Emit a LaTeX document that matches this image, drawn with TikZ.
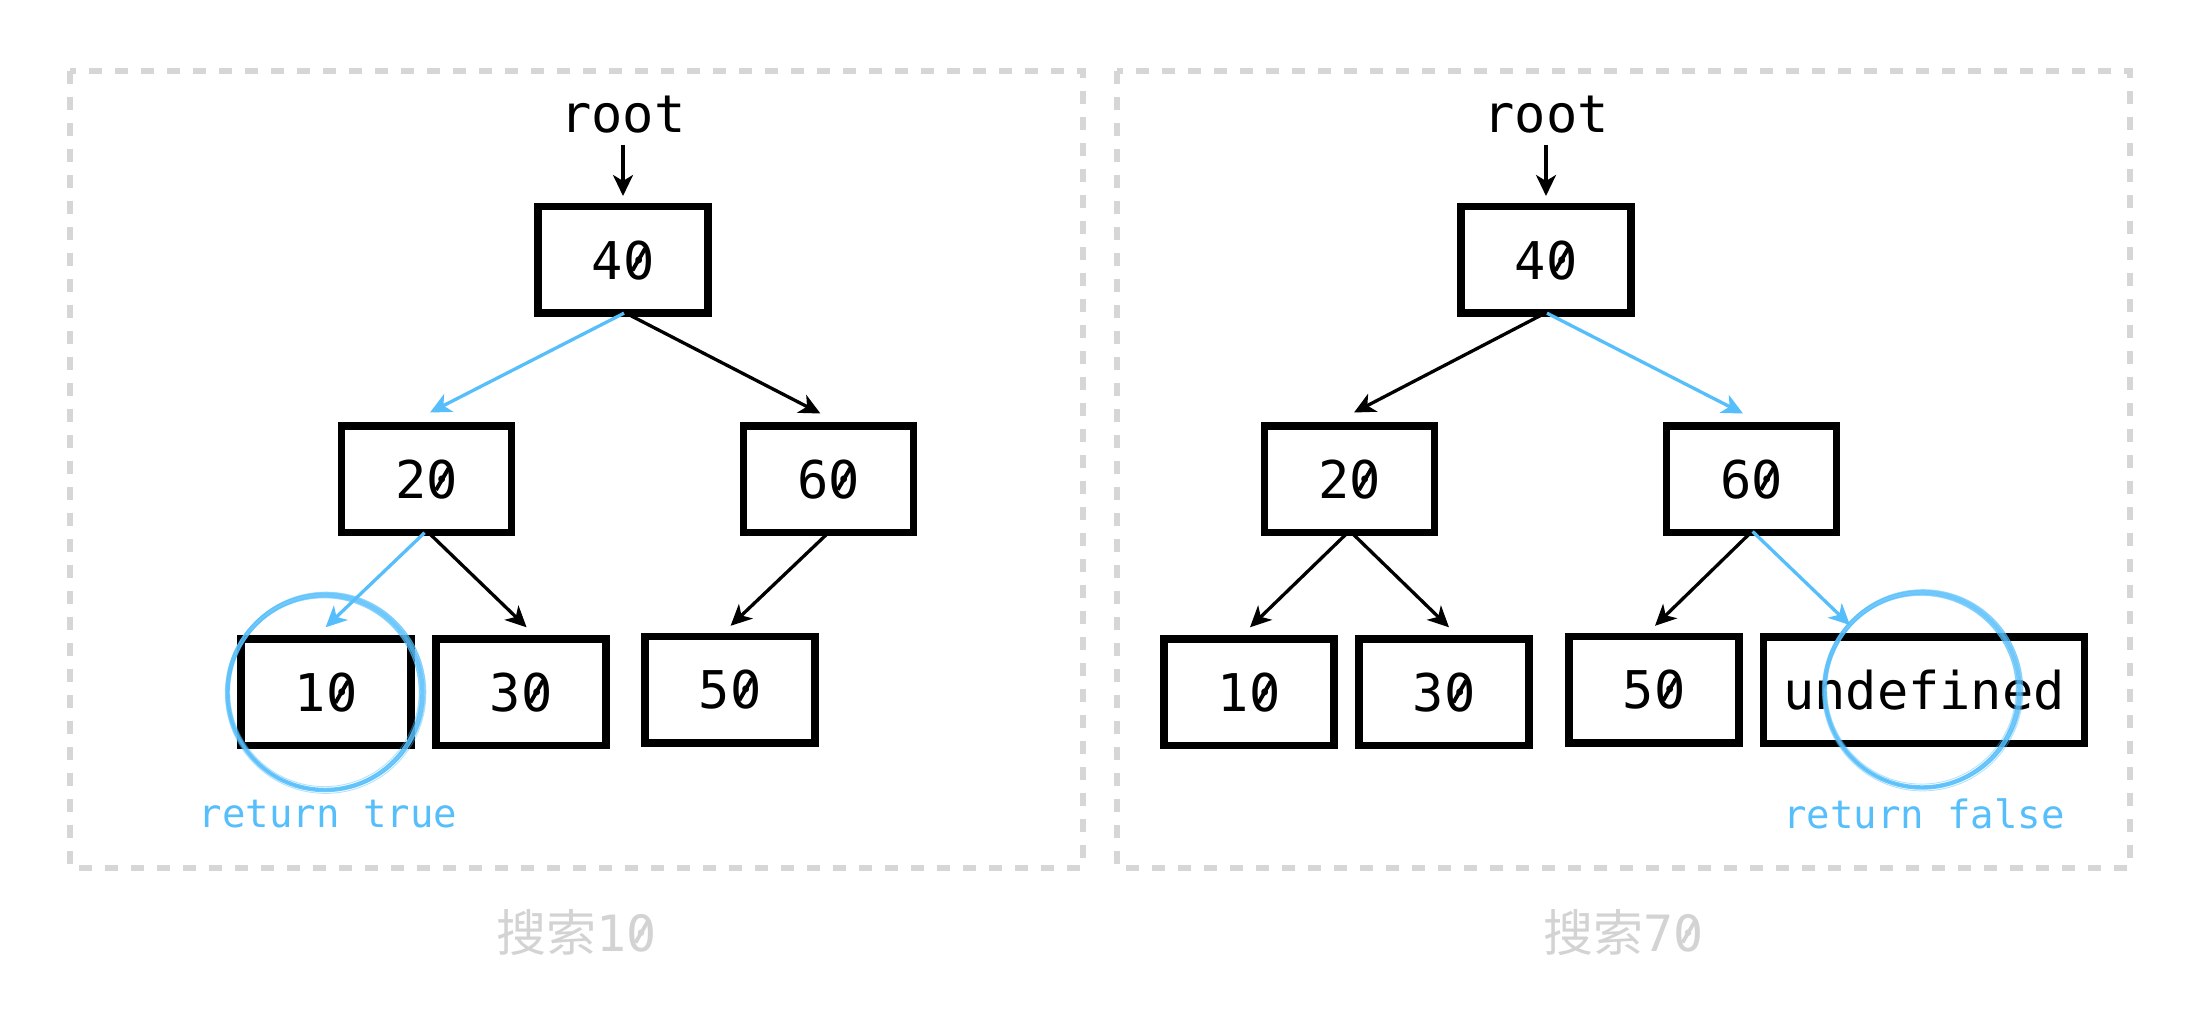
\documentclass[tikz,border=0pt]{standalone}
\usepackage{fontspec}
\newfontfamily\mono{DejaVu Sans Mono}
\newfontfamily\cjk{Noto Sans CJK SC}
\usetikzlibrary{arrows.meta,calc}
\definecolor{hl}{HTML}{56BEFA}
\definecolor{framegray}{HTML}{D6D6D6}
\definecolor{capgray}{HTML}{D3D3D3}
% slashed zero
\newcommand\zro{\ooalign{0\cr\hidewidth\raisebox{0.15em}{\rotatebox{60}{\rule{0.48em}{0.075em}}}\hidewidth\cr}}
\begin{document}
\begin{tikzpicture}[x=0.5pt,y=-0.5pt,
  box/.style={draw=black,line width=3.75pt,fill=white,minimum width=85pt,minimum height=53.25pt,inner sep=0pt,font=\mono\fontsize{26pt}{30pt}\selectfont},
  arr/.style={line width=1.65pt,-{Stealth[length=10.5pt,width=10pt,inset=3pt]}},
  hlarr/.style={arr,draw=hl},
  panel/.style={draw=framegray,line width=3pt,dash pattern=on 6.5pt off 6.5pt},
  hltext/.style={text=hl,anchor=base,font=\mono\fontsize{19.5pt}{22pt}\selectfont},
  captext/.style={text=capgray,anchor=base,font=\fontsize{25pt}{30pt}\selectfont},
  roottext/.style={anchor=base,font=\mono\fontsize{26pt}{30pt}\selectfont}]
\useasboundingbox (0,0) rectangle (2202,1020);
% panels
\draw[panel] (70,71) rectangle (1083,868);
\draw[panel] (1117,71) rectangle (2130,868);
% left tree
\node[box] (n40) at (623,260) {4\zro};
\node[box] (n20) at (426.6,479.5) {2\zro};
\node[box] (n60) at (828.4,479.5) {6\zro};
\node[box] (n10) at (326,692.3) {1\zro};
\node[box] (n30) at (521,692.3) {3\zro};
\node[box] (n50) at (730,690) {5\zro};
% right tree
\node[box] (r40) at (1546,260) {4\zro};
\node[box] (r20) at (1349.6,479.5) {2\zro};
\node[box] (r60) at (1751.6,479.5) {6\zro};
\node[box] (r10) at (1249,692.3) {1\zro};
\node[box] (r30) at (1444,692.3) {3\zro};
\node[box] (r50) at (1654,690) {5\zro};
\node[box,minimum width=160.5pt] (rund) at (1924,690.5) {undefined};
% root labels
\node[roottext] (rootL) at (623,133) {root};
\node[roottext] (rootR) at (1546,133) {root};
\draw[arr] ([yshift=-6pt]rootL.base) -- ([yshift=3.5pt]n40.north);
\draw[arr] ([yshift=-6pt]rootR.base) -- ([yshift=3.5pt]r40.north);
% left edges
\draw[hlarr] ([xshift=0.5pt,yshift=1.9pt]n40.south) -- ([xshift=1.7pt,yshift=5pt]n20.north);
\draw[arr] ([xshift=1.5pt,yshift=1.9pt]n40.south) -- ([xshift=-4pt,yshift=4.5pt]n60.north);
\draw[hlarr] ([xshift=-1pt,yshift=1.9pt]n20.south) -- ([xshift=-0.2pt,yshift=4pt]n10.north);
\draw[arr] ([xshift=1pt,yshift=1.9pt]n20.south) -- ([xshift=2.8pt,yshift=4pt]n30.north);
\draw[arr] ([yshift=1.9pt]n60.south) -- ([xshift=0.3pt,yshift=3.6pt]n50.north);
% right edges
\draw[arr] ([xshift=-0.5pt,yshift=1.9pt]r40.south) -- ([xshift=2.2pt,yshift=5pt]r20.north);
\draw[hlarr] ([xshift=0.5pt,yshift=1.9pt]r40.south) -- ([xshift=-4.3pt,yshift=4.5pt]r60.north);
\draw[arr] ([xshift=-1pt,yshift=1.9pt]r20.south) -- ([xshift=0.5pt,yshift=4pt]r10.north);
\draw[arr] ([xshift=1pt,yshift=1.9pt]r20.south) -- ([xshift=2.5pt,yshift=4pt]r30.north);
\draw[arr] ([xshift=-0.5pt,yshift=1.9pt]r60.south) -- ([xshift=0.5pt,yshift=3.6pt]r50.north);
\draw[hlarr] ([xshift=0.5pt,yshift=2.5pt]r60.south) -- ([xshift=-37pt,yshift=4.2pt]rund.north);
% brush circles
\foreach \cx/\cy in {325/692.5,1922/690}{
  \foreach \dx/\dy/\dr/\w/\o in {0/0/0/2.2/0.85,1/-1/1.6/0.7/0.6,-1/1/-1.6/0.7/0.6,0.6/0.6/2.8/0.45/0.45,-0.6/-0.6/-2.8/0.45/0.45}{
    \draw[hl,line width=\w pt,opacity=\o] (\cx+\dx,\cy+\dy) circle[radius=97.5+\dr];
  }
}
% labels
\node[hltext] (rt) at (328,828) {return true};
\node[hltext] (rf) at (1924,829) {return false};
\node[captext] (capL) at (576.5,951) {{\cjk 搜索}{\mono 1\zro}};
\node[captext] (capR) at (1623.5,951) {{\cjk 搜索}{\mono 7\zro}};
\end{tikzpicture}
\end{document}
